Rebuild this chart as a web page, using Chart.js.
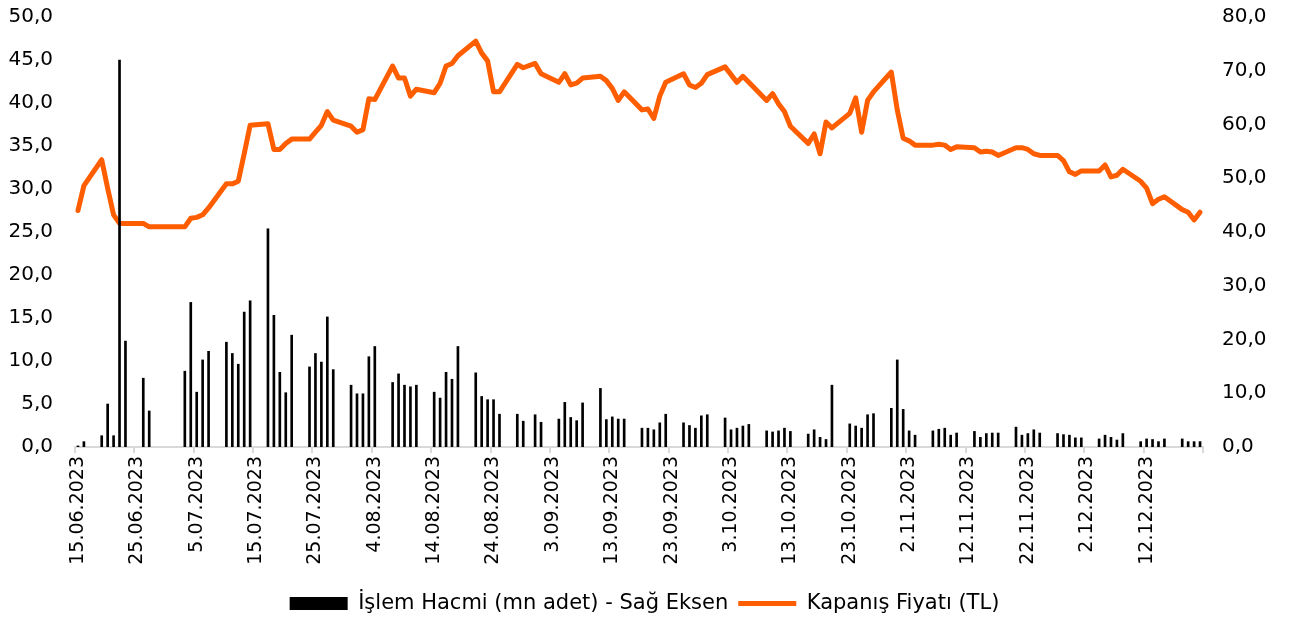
<!DOCTYPE html>
<html lang="tr">
<head>
<meta charset="utf-8">
<title>İşlem Hacmi ve Kapanış Fiyatı</title>
<script src="https://cdn.jsdelivr.net/npm/chart.js@4.4.1/dist/chart.umd.min.js"></script>
<style>
    html, body { margin: 0; padding: 0; background: #fff; }
    #wrap { width: 1289px; height: 624px; }
</style>
</head>
<body>
<div id="wrap"><canvas id="price-volume-chart"></canvas></div>
<script>
// Trading days of 2023 (D.MM)
const tradeDays = [
    '15.06', '16.06', '19.06', '20.06', '21.06', '22.06', '23.06', '26.06', '27.06',
    '3.07', '4.07', '5.07', '6.07', '7.07', '10.07', '11.07', '12.07', '13.07', '14.07', '17.07',
    '18.07', '19.07', '20.07', '21.07', '24.07', '25.07', '26.07', '27.07', '28.07', '31.07',
    '1.08', '2.08', '3.08', '4.08', '7.08', '8.08', '9.08', '10.08', '11.08', '14.08', '15.08',
    '16.08', '17.08', '18.08', '21.08', '22.08', '23.08', '24.08', '25.08', '28.08', '29.08', '31.08',
    '1.09', '4.09', '5.09', '6.09', '7.09', '8.09', '11.09', '12.09', '13.09', '14.09', '15.09',
    '18.09', '19.09', '20.09', '21.09', '22.09', '25.09', '26.09', '27.09', '28.09', '29.09',
    '2.10', '3.10', '4.10', '5.10', '6.10', '9.10', '10.10', '11.10', '12.10', '13.10', '16.10',
    '17.10', '18.10', '19.10', '20.10', '23.10', '24.10', '25.10', '26.10', '27.10', '30.10', '31.10',
    '1.11', '2.11', '3.11', '6.11', '7.11', '8.11', '9.11', '10.11', '13.11', '14.11', '15.11',
    '16.11', '17.11', '20.11', '21.11', '22.11', '23.11', '24.11', '27.11', '28.11', '29.11', '30.11',
    '1.12', '4.12', '5.12', '6.12', '7.12', '8.12', '11.12', '12.12', '13.12', '14.12', '15.12',
    '18.12', '19.12', '20.12', '21.12'
];

// İşlem hacmi, mn adet (right axis)
const volume = [
    0.2, 1.0, 2.1, 8.0, 2.1, 72.0, 19.7, 12.8, 6.7,
    14.1, 26.9, 10.2, 16.2, 17.8, 19.5, 17.4, 15.4, 25.1, 27.2, 40.6,
    24.5, 13.9, 10.1, 20.8, 14.9, 17.4, 15.8, 24.2, 14.4, 11.5,
    9.9, 9.9, 16.8, 18.7, 12.0, 13.6, 11.5, 11.2, 11.5, 10.2, 9.1,
    13.9, 12.6, 18.7, 13.8, 9.4, 8.8, 8.8, 6.1, 6.1, 4.8, 6.0,
    4.6, 5.2, 8.3, 5.5, 4.9, 8.2, 10.9, 5.1, 5.6, 5.2, 5.2,
    3.5, 3.5, 3.2, 4.5, 6.1, 4.5, 4.0, 3.5, 5.8, 6.0,
    5.4, 3.2, 3.5, 3.9, 4.2, 3.0, 2.8, 3.0, 3.5, 2.9, 2.4,
    3.2, 1.8, 1.4, 11.5, 4.3, 3.9, 3.5, 6.0, 6.2, 7.2, 16.2,
    7.0, 3.0, 2.2, 3.0, 3.3, 3.5, 2.2, 2.6, 2.9, 1.8, 2.5,
    2.6, 2.6, 3.7, 2.2, 2.5, 3.2, 2.6, 2.5, 2.3, 2.2, 1.7,
    1.7, 1.5, 2.2, 1.8, 1.3, 2.5, 1.0, 1.5, 1.4, 1.0, 1.5,
    1.5, 1.0, 1.0, 1.0
];

// Kapanış fiyatı, TL (left axis)
const price = [
    27.5, 30.4, 33.4, 30.1, 27.0, 26.0, 26.0, 26.0, 25.6,
    25.6, 26.6, 26.7, 27.0, 27.8, 30.6, 30.6, 30.9, 34.1, 37.4, 37.6,
    34.6, 34.6, 35.3, 35.8, 35.8, 36.6, 37.4, 39.0, 38.0, 37.3,
    36.6, 36.9, 40.5, 40.4, 44.3, 42.9, 42.9, 40.8, 41.6, 41.2, 42.3,
    44.3, 44.6, 45.5, 47.2, 45.8, 44.9, 41.3, 41.3, 44.5, 44.1, 44.6,
    43.4, 42.4, 43.4, 42.1, 42.3, 42.9, 43.1, 42.6, 41.7, 40.3, 41.3,
    39.2, 39.3, 38.2, 40.8, 42.4, 43.4, 42.1, 41.8, 42.3, 43.3,
    44.2, 43.3, 42.4, 43.1, 42.4, 40.3, 41.1, 39.9, 39.0, 37.3, 35.3,
    36.4, 34.1, 37.8, 37.1, 38.8, 40.6, 36.6, 40.3, 41.3, 43.6, 39.2,
    35.9, 35.6, 35.1, 35.1, 35.2, 35.1, 34.6, 34.9, 34.8, 34.3, 34.4,
    34.3, 33.9, 34.8, 34.8, 34.6, 34.1, 33.9, 33.9, 33.3, 32.0, 31.7,
    32.1, 32.1, 32.8, 31.4, 31.6, 32.3, 30.9, 30.1, 28.3, 28.8, 29.1,
    27.6, 27.3, 26.4, 27.3
];

// Calendar range of the date axis
const firstDay = new Date(2023, 5, 15);
const lastDay = new Date(2023, 11, 21);

// Build one category per calendar day, empty on non-trading days
const labels = [];
const volumeByDay = [];
const priceByDay = [];
for (let d = new Date(firstDay); d <= lastDay; d.setDate(d.getDate() + 1)) {
    const key = d.getDate() + '.' + String(d.getMonth() + 1).padStart(2, '0');
    const k = tradeDays.indexOf(key);
    labels.push(key + '.' + d.getFullYear());
    volumeByDay.push(k >= 0 ? volume[k] : null);
    priceByDay.push(k >= 0 ? price[k] : null);
}

const axisGray = '#d9d9d9';
const fontFamily = "'DejaVu Sans', sans-serif";
const fmt = v => v.toFixed(1).replace('.', ',');

// Fixed widths for the value axes, no extra top/bottom padding
function fixWidth(width) {
    return scale => {
        scale.width = width;
        scale.paddingTop = 0;
        scale.paddingBottom = 0;
    };
}

const ctx = document.getElementById('price-volume-chart').getContext('2d');
new Chart(ctx, {
    type: 'bar',
    data: {
        labels: labels,
        datasets: [
            {
                label: 'İşlem Hacmi (mn adet) - Sağ Eksen',
                data: volumeByDay,
                yAxisID: 'y1',
                backgroundColor: '#000000',
                borderColor: '#000000',
                borderWidth: 0,
                barThickness: 2,
                order: 0
            },
            {
                label: 'Kapanış Fiyatı (TL)',
                type: 'line',
                data: priceByDay,
                yAxisID: 'y',
                borderColor: '#ff5e00',
                backgroundColor: '#ff5e00',
                borderWidth: 5,
                borderJoinStyle: 'round',
                borderCapStyle: 'round',
                pointRadius: 0,
                spanGaps: true,
                tension: 0,
                order: 1
            }
        ]
    },
    options: {
        responsive: true,
        maintainAspectRatio: false,
        animation: false,
        layout: { padding: { top: 17, left: 0, right: 0, bottom: 0 } },
        scales: {
            x: {
                offset: true,
                grid: {
                    offset: true,
                    drawOnChartArea: false,
                    drawTicks: true,
                    tickLength: 6,
                    lineWidth: 2,
                    color: c => (c.type !== 'tick' || c.index % 10 === 0) ? axisGray : 'rgba(0,0,0,0)'
                },
                border: { display: true, color: axisGray, width: 2 },
                ticks: {
                    autoSkip: false,
                    minRotation: 90,
                    maxRotation: 90,
                    padding: 3,
                    color: '#000',
                    font: { family: fontFamily, size: 19 },
                    callback: function (value, index) {
                        return index % 10 === 0 ? this.getLabelForValue(value) : '';
                    }
                },
                afterFit: scale => {
                    scale.height = 136;
                    scale.paddingLeft = 0;
                    scale.paddingRight = 0;
                }
            },
            y: {
                position: 'left',
                min: 0,
                max: 50,
                grid: { display: false },
                border: { display: false },
                ticks: { stepSize: 5, padding: 14, color: '#000', font: { family: fontFamily, size: 20 }, callback: fmt },
                afterFit: fixWidth(75)
            },
            y1: {
                position: 'right',
                min: 0,
                max: 80,
                grid: { display: false },
                border: { display: false },
                ticks: { stepSize: 10, padding: 11, color: '#000', font: { family: fontFamily, size: 20 }, callback: fmt },
                afterFit: fixWidth(86)
            }
        },
        plugins: {
            tooltip: { enabled: false },
            legend: {
                position: 'bottom',
                labels: {
                    usePointStyle: true,
                    pointStyleWidth: 58,
                    boxHeight: 13,
                    padding: 10,
                    color: '#000',
                    font: { family: fontFamily, size: 21 },
                    generateLabels: chart =>
                        Chart.defaults.plugins.legend.labels.generateLabels(chart).map(item => {
                            item.pointStyle = item.datasetIndex === 0 ? 'rect' : 'line';
                            return item;
                        })
                }
            }
        }
    }
});
</script>
</body>
</html>
